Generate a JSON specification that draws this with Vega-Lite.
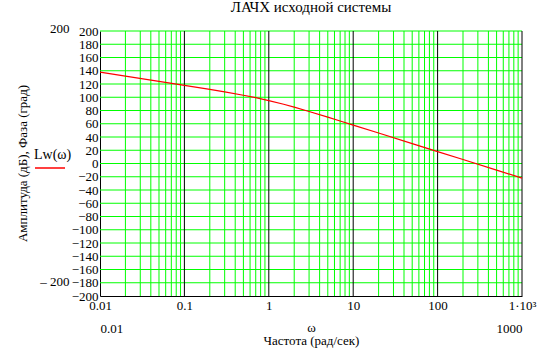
{
  "$schema": "https://vega.github.io/schema/vega-lite/v6.json",
  "width": 422,
  "height": 265,
  "autosize": {"type": "none"},
  "padding": {"left": 100, "top": 31, "right": 21, "bottom": 62},
  "background": "white",
  "title": {"text": "ЛАЧХ исходной системы", "font": "Liberation Serif", "fontSize": 15, "fontWeight": "normal", "color": "black", "anchor": "middle", "offset": 7},
  "config": {
    "font": "Liberation Serif",
    "view": {"stroke": null},
    "axis": {"labelFont": "Liberation Serif", "labelFontSize": 13, "labelColor": "black", "titleFont": "Liberation Serif", "titleFontWeight": "normal", "titleColor": "black", "titleFontSize": 13, "grid": false, "ticks": false, "labelOverlap": false, "labelBound": false},
    "legend": {"titleFont": "Liberation Serif", "titleFontWeight": "normal", "titleColor": "black", "titleFontSize": 14}
  },
  "datasets": {
    "hgrid": [{"v": -180}, {"v": -160}, {"v": -140}, {"v": -120}, {"v": -100}, {"v": -80}, {"v": -60}, {"v": -40}, {"v": -20}, {"v": 0}, {"v": 20}, {"v": 40}, {"v": 60}, {"v": 80}, {"v": 100}, {"v": 120}, {"v": 140}, {"v": 160}, {"v": 180}, {"v": 200}],
    "vminor": [{"f": 0.02}, {"f": 0.03}, {"f": 0.04}, {"f": 0.05}, {"f": 0.06}, {"f": 0.07}, {"f": 0.08}, {"f": 0.09},
      {"f": 0.2}, {"f": 0.3}, {"f": 0.4}, {"f": 0.5}, {"f": 0.6}, {"f": 0.7}, {"f": 0.8}, {"f": 0.9},
      {"f": 2}, {"f": 3}, {"f": 4}, {"f": 5}, {"f": 6}, {"f": 7}, {"f": 8}, {"f": 9},
      {"f": 20}, {"f": 30}, {"f": 40}, {"f": 50}, {"f": 60}, {"f": 70}, {"f": 80}, {"f": 90},
      {"f": 200}, {"f": 300}, {"f": 400}, {"f": 500}, {"f": 600}, {"f": 700}, {"f": 800}, {"f": 900}],
    "vmajor": [{"f": 0.1}, {"f": 1}, {"f": 10}, {"f": 100}, {"f": 1000}],
    "curve": [
      {"w": 0.01, "L": 138, "s": "Lw(ω)"}, {"w": 0.02, "L": 132, "s": "Lw(ω)"}, {"w": 0.05, "L": 124, "s": "Lw(ω)"},
      {"w": 0.1, "L": 118, "s": "Lw(ω)"}, {"w": 0.2, "L": 111.8, "s": "Lw(ω)"}, {"w": 0.3, "L": 108.1, "s": "Lw(ω)"},
      {"w": 0.5, "L": 103, "s": "Lw(ω)"}, {"w": 0.7, "L": 99.4, "s": "Lw(ω)"}, {"w": 1, "L": 95, "s": "Lw(ω)"},
      {"w": 1.5, "L": 89.4, "s": "Lw(ω)"}, {"w": 2, "L": 85, "s": "Lw(ω)"}, {"w": 3, "L": 78.5, "s": "Lw(ω)"},
      {"w": 5, "L": 69.9, "s": "Lw(ω)"}, {"w": 7, "L": 64.1, "s": "Lw(ω)"}, {"w": 10, "L": 58, "s": "Lw(ω)"},
      {"w": 20, "L": 46, "s": "Lw(ω)"}, {"w": 50, "L": 30, "s": "Lw(ω)"}, {"w": 100, "L": 18, "s": "Lw(ω)"},
      {"w": 200, "L": 6, "s": "Lw(ω)"}, {"w": 500, "L": -10, "s": "Lw(ω)"}, {"w": 1000, "L": -22, "s": "Lw(ω)"}
    ]
  },
  "layer": [
    {
      "data": {"name": "hgrid"},
      "mark": {"type": "rule", "color": "#00ff00", "strokeWidth": 1},
      "encoding": {
        "y": {"field": "v", "type": "quantitative", "scale": {"domain": [-200, 200], "nice": false, "zero": false},
          "axis": {"orient": "left", "values": [200, -200], "offset": 29, "domain": false, "labelPadding": 2, "title": null,
            "labelFont": "Liberation Serif", "labelFontSize": 13, "labelColor": "black",
            "labelExpr": "datum.value < 0 ? '– 200' : '200'",
            "labelOffset": {"condition": {"test": "datum.value < 0", "value": -15}, "value": -3}}}
      }
    },
    {
      "data": {"name": "vminor"},
      "mark": {"type": "rule", "color": "#00ff00", "strokeWidth": 1},
      "encoding": {
        "x": {"field": "f", "type": "quantitative", "scale": {"type": "log", "domain": [0.01, 1000], "nice": false},
          "axis": {"orient": "bottom", "values": [0.01, 1000], "offset": 22, "domain": false, "labelPadding": 4, "labelFlush": true, "title": null,
            "labelFont": "Liberation Serif", "labelFontSize": 13, "labelColor": "black",
            "labelExpr": "format(datum.value, '~g')"}}
      }
    },
    {
      "data": {"name": "vmajor"},
      "mark": {"type": "rule", "color": "black", "strokeWidth": 1},
      "encoding": {
        "x": {"field": "f", "type": "quantitative", "scale": {"type": "log", "domain": [0.01, 1000], "nice": false}, "axis": null}
      }
    },
    {
      "data": {"name": "curve"},
      "mark": {"type": "line", "strokeWidth": 1.2},
      "encoding": {
        "x": {"field": "w", "type": "quantitative", "scale": {"type": "log", "domain": [0.01, 1000], "nice": false},
          "axis": {"orient": "bottom", "values": [0.01, 0.1, 1, 10, 100, 1000], "domainColor": "black", "labelPadding": 3, "labelFlush": false,
            "labelFont": "Liberation Serif", "labelFontSize": 13, "labelColor": "black",
            "titleFont": "Liberation Serif", "titleFontSize": 13, "titleFontWeight": "normal", "titleColor": "black",
            "labelExpr": "datum.value == 1000 ? '1·10³' : format(datum.value, '~g')",
            "title": ["ω", "Частота (рад/сек)"], "titleY": 25, "titleBaseline": "top", "titleLineHeight": 13}},
        "y": {"field": "L", "type": "quantitative", "scale": {"domain": [-200, 200], "nice": false, "zero": false},
          "axis": {"orient": "left", "values": [-200, -180, -160, -140, -120, -100, -80, -60, -40, -20, 0, 20, 40, 60, 80, 100, 120, 140, 160, 180, 200],
            "domainColor": "black", "labelPadding": 2,
            "labelFont": "Liberation Serif", "labelFontSize": 13, "labelColor": "black",
            "titleFont": "Liberation Serif", "titleFontSize": 13, "titleFontWeight": "normal", "titleColor": "black",
            "title": "Амплитуда (дБ), Фаза (град)", "titleX": -78, "titleY": 132, "titleAngle": -90, "titleAlign": "center", "titleBaseline": "middle"}},
        "color": {"field": "s", "type": "nominal", "scale": {"domain": ["Lw(ω)"], "range": ["#ff0000"]},
          "legend": {"orient": "none", "legendX": -66, "legendY": 117, "title": "Lw(ω)", "symbolType": "stroke", "symbolSize": 900, "symbolStrokeWidth": 1.5, "labelExpr": "''", "titlePadding": -10}}
      }
    }
  ],
  "resolve": {"axis": {"x": "independent", "y": "independent"}}
}
